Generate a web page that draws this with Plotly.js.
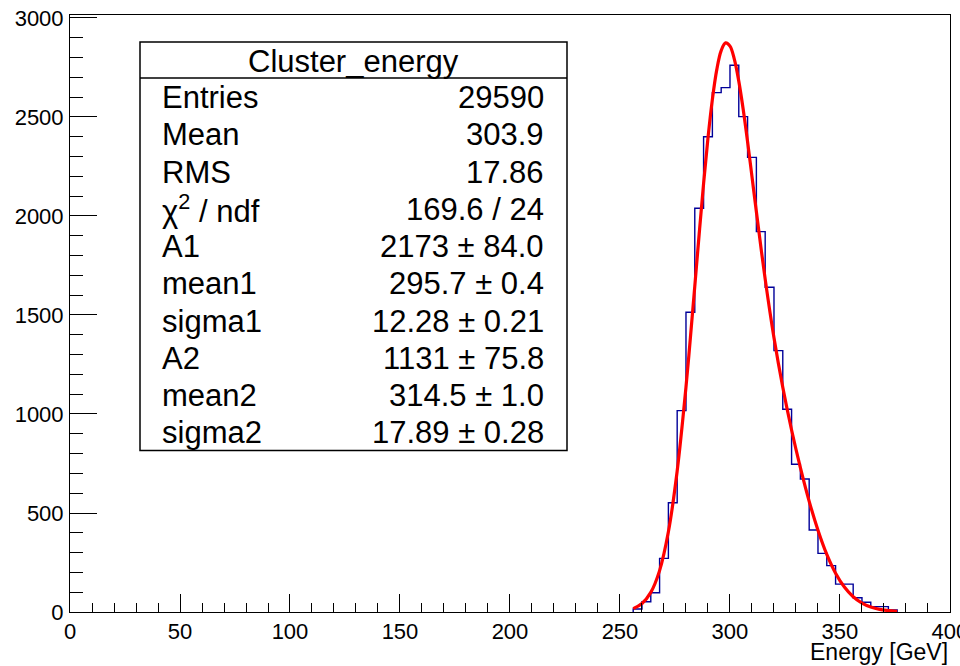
<!DOCTYPE html>
<html>
<head>
<meta charset="utf-8">
<script src="https://cdn.plot.ly/plotly-3.0.1.min.js"></script>
<style>
html,body{margin:0;padding:0;background:#fff;}
#chart{width:960px;height:666px;}
</style>
</head>
<body>
<div id="chart"></div>
<script>
// Histogram: left bin edges (GeV), bin width 4 GeV, and counts
const binLeft = [256,260,264,268,272,276,280,284,288,292,296,300,304,308,312,316,320,324,328,332,336,340,344,348,352,356,360,364,368,372];
const binCounts = [15,52,97,271,552,1017,1514,2039,2400,2623,2648,2761,2502,2296,1921,1640,1320,1024,746,672,414,296,234,141,141,72,49,27,27,10];
const binWidth = 4;

// Fit curve
const fitX = [256,260,264,268,272,276,280,282,284,286,288,290,292,294,296,298,300,302,304,306,308,310,312,316,320,324,328,332,336,340,344,348,352,356,360,364,368,372,376];
const fitY = [17,43,99,209,405,712,1136,1384,1645,1909,2163,2394,2589,2739,2835,2874,2858,2791,2681,2539,2375,2199,2021,1681,1385,1135,919,729,559,413,291,196,126,77,45,25,13,7,3];

// Stats box text
const statsTitle = "Cluster_energy";
const statLabels = ["Entries","Mean","RMS","\u03c7<sup>2</sup> / ndf","A1","mean1","sigma1","A2","mean2","sigma2"];
const statValues = ["29590","303.9","17.86","169.6 / 24","2173 \u00b1 84.0","295.7 \u00b1 0.4","12.28 \u00b1 0.21","1131 \u00b1 75.8","314.5 \u00b1 1.0","17.89 \u00b1 0.28"];

const xTitle = "Energy [GeV]";

// Build step line from histogram arrays
const hx = [binLeft[0]];
const hy = [0];
for (let i = 0; i < binLeft.length; i++) { hx.push(binLeft[i]); hy.push(binCounts[i]); }
hx.push(binLeft[binLeft.length-1] + binWidth); hy.push(0);

// pixel geometry of plot area
const L = 70, R = 950, T = 15, B = 612;
const px = x => (x - L) / (R - L);
const py = y => (B - y) / (B - T);

const FONT = "Liberation Sans, Arial, Helvetica, sans-serif";
const boxL = 140, boxR = 567, boxT = 42, boxB = 450.5, headB = 78;
const rowH = (boxB - headB) / statLabels.length;
const STAT_SIZE = 31;

const annotations = [];
annotations.push({xref:'paper', yref:'paper', x:px((boxL+boxR)/2), y:py((boxT+headB)/2 + 1), text:statsTitle,
  showarrow:false, xanchor:'center', yanchor:'middle', font:{family:FONT, size:STAT_SIZE, color:'#000'}});
for (let i = 0; i < statLabels.length; i++) {
  const yc = headB + rowH*(i+0.5) + 1;
  annotations.push({xref:'paper', yref:'paper', x:px(160), y:py(yc), text:statLabels[i], showarrow:false,
    xanchor:'left', yanchor:'middle', font:{family:FONT, size:STAT_SIZE, color:'#000'}});
  annotations.push({xref:'paper', yref:'paper', x:px(546), y:py(yc), text:statValues[i], showarrow:false,
    xanchor:'right', yanchor:'middle', font:{family:FONT, size:STAT_SIZE, color:'#000'}});
}
annotations.push({xref:'paper', yref:'paper', x:1, y:py(652), text:xTitle, showarrow:false,
  xanchor:'right', yanchor:'middle', font:{family:FONT, size:23, color:'#000'}});

const shapes = [
  {type:'rect', xref:'paper', yref:'paper', x0:px(boxL), x1:px(boxR), y0:py(boxB), y1:py(boxT),
   line:{color:'#000', width:1.5}, fillcolor:'#fff', layer:'above'},
  {type:'line', xref:'paper', yref:'paper', x0:px(boxL), x1:px(boxR), y0:py(headB), y1:py(headB),
   line:{color:'#000', width:1.5}, layer:'above'}
];

const traces = [
  {x:hx, y:hy, type:'scatter', mode:'lines', line:{shape:'hv', color:'#000099', width:1.4}, hoverinfo:'skip', showlegend:false},
  {x:fitX, y:fitY, type:'scatter', mode:'lines', line:{shape:'spline', color:'#ff0000', width:3.2}, hoverinfo:'skip', showlegend:false}
];

const axisCommon = {showgrid:false, zeroline:false, showline:true, linecolor:'#000', linewidth:1, mirror:true,
  ticks:'inside', tickcolor:'#000', tickwidth:1, tickfont:{family:FONT, size:22, color:'#000'},
  ticklabeloverflow:'allow'};

const layout = {
  width:960, height:666,
  margin:{l:L, r:960-R, t:T, b:666-B, pad:0},
  paper_bgcolor:'#fff', plot_bgcolor:'#fff',
  showlegend:false,
  xaxis:Object.assign({}, axisCommon, {range:[0,400.01], tick0:0, dtick:50, ticklen:18,
    minor:{dtick:10, ticklen:9, ticks:'inside', tickcolor:'#000', tickwidth:1, showgrid:false}}),
  yaxis:Object.assign({}, axisCommon, {range:[0,3015], tick0:0, dtick:500, ticklen:27, ticklabelstandoff:1,
    minor:{dtick:100, ticklen:13, ticks:'inside', tickcolor:'#000', tickwidth:1, showgrid:false}}),
  shapes:shapes,
  annotations:annotations
};

Plotly.newPlot('chart', traces, layout, {displayModeBar:false, staticPlot:true});
</script>
</body>
</html>
